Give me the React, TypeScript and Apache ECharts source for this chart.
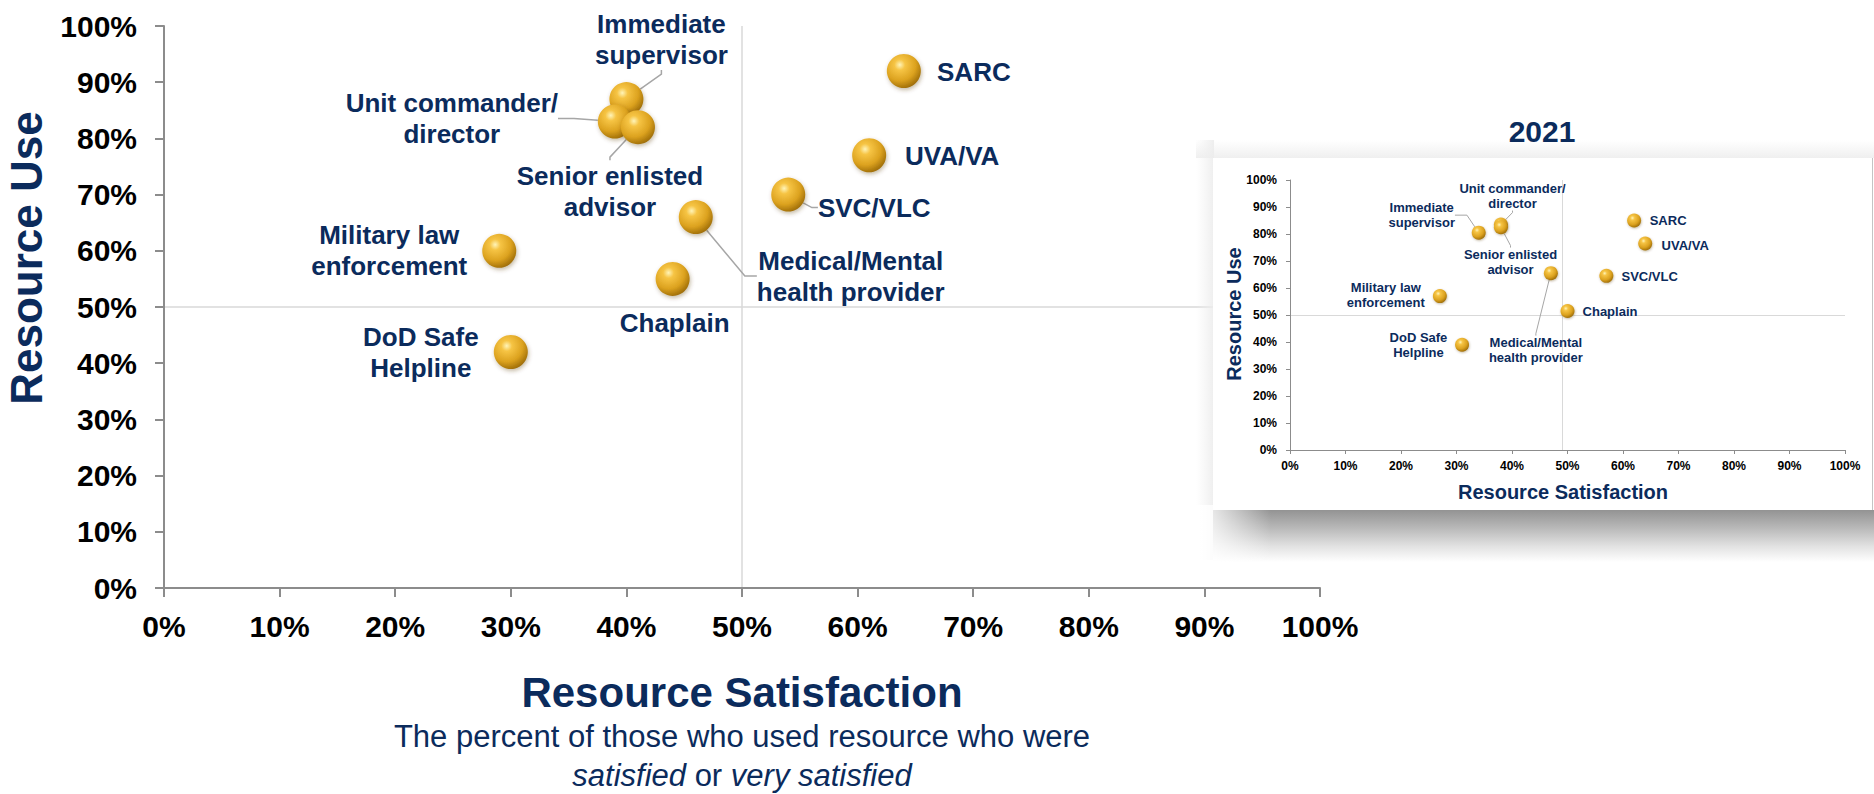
import React, { useEffect, useRef } from 'react';
import * as echarts from 'echarts';

// ---------- data ----------
const categories = [
  'Immediate supervisor',
  'Unit commander/director',
  'Senior enlisted advisor',
  'Military law enforcement',
  'DoD Safe Helpline',
  'Chaplain',
  'Medical/Mental health provider',
  'SVC/VLC',
  'UVA/VA',
  'SARC',
];
const labelTexts = [
  'Immediate\nsupervisor',
  'Unit commander/\ndirector',
  'Senior enlisted\nadvisor',
  'Military law\nenforcement',
  'DoD Safe\nHelpline',
  'Chaplain',
  'Medical/Mental\nhealth provider',
  'SVC/VLC',
  'UVA/VA',
  'SARC',
];
// current (large) chart
const satisfactionMain = [40, 39, 41, 29, 30, 44, 46, 54, 61, 64];
const useMain = [87, 83, 82, 60, 42, 55, 66, 70, 77, 92];
// 2021 inset
const satisfaction2021 = [34, 38, 38, 27, 31, 50, 47, 57, 64, 62];
const use2021 = [80.5, 83.5, 82.5, 57, 39, 51.5, 65.5, 64.5, 76.5, 85];

const axisMin = 0;
const axisMax = 100;
const axisStep = 10;
const mainRefX = 50;
const mainRefY = 50;
const insetRefX = 49;
const insetRefY = 50;
const insetTitle = '2021';

// ---------- label placement (styles, not data) ----------
const mainOffsets: number[][] = [
  [35, -60], [-163, -3], [-28, 64], [-110, 0], [-90, 1],
  [2, 44], [155, 59], [86, 13], [83, 1], [70, 1],
];
const mainLeaders: (number | null)[] = [4, 16, 3, null, null, null, 12, 6, null, null];
const insetOffsets: number[][] = [
  [-57, -17.5], [11.6, -28.5], [9.6, 34.8], [-54, -1], [-43.6, 0.3],
  [42.5, 1], [-15, 77], [43.3, 0.6], [40, 2], [34, 0],
];
const insetLeaders: (number | null)[] = [12, 2, 2, null, null, null, 2, null, null, null];

const FONT = "'Liberation Sans', Arial, sans-serif";
const NAVY = '#0b2b5c';
const AXIS_GRAY = '#8c8c8c';
const REF_GRAY = '#d9d9d9';

const sphere = {
  type: 'radial',
  x: 0.38,
  y: 0.32,
  r: 0.72,
  colorStops: [
    { offset: 0, color: '#fff4b8' },
    { offset: 0.22, color: '#f6c444' },
    { offset: 0.65, color: '#dca21f' },
    { offset: 1, color: '#9c6b06' },
  ],
};

function axisPair(gridIndex: number, big: boolean, isX: boolean) {
  return {
    gridIndex,
    type: 'value',
    min: axisMin,
    max: axisMax,
    interval: axisStep,
    z: big ? 2 : 12,
    axisLine: { show: true, lineStyle: { color: AXIS_GRAY, width: big ? 2 : 1 } },
    axisTick: { show: true, length: big ? 9 : 4, lineStyle: { color: AXIS_GRAY, width: big ? 2 : 1 } },
    splitLine: { show: false },
    axisLabel: {
      formatter: '{value}%',
      color: '#000',
      fontFamily: FONT,
      fontWeight: 'bold',
      fontSize: big ? 30 : 12,
      margin: big ? (isX ? 23 : 27) : (isX ? 10 : 13),
    },
  };
}

function makeSeries(
  xs: number[], ys: number[], offsets: number[][], leaders: (number | null)[],
  big: boolean, refX: number, refY: number, idx: number,
) {
  return {
    type: 'scatter',
    xAxisIndex: idx,
    yAxisIndex: idx,
    z: big ? 2 : 12,
    silent: true,
    symbol: 'circle',
    symbolSize: big ? 34 : 14,
    data: categories.map((c, i) => ({
      name: c,
      value: [xs[i], ys[i]],
      labelLine: { show: leaders[i] != null, length2: leaders[i] ?? 0 },
    })),
    itemStyle: {
      color: sphere,
      opacity: 1,
      shadowBlur: big ? 4 : 2,
      shadowColor: 'rgba(90,60,0,0.35)',
      shadowOffsetX: big ? 1 : 0.5,
      shadowOffsetY: big ? 2 : 1,
    },
    label: {
      show: true,
      position: 'inside',
      formatter: (p: any) => labelTexts[p.dataIndex],
      color: NAVY,
      fontFamily: FONT,
      fontWeight: 'bold',
      fontSize: big ? 26 : 13,
      lineHeight: big ? 31 : 14.5,
      align: 'center',
      verticalAlign: 'middle',
    },
    labelLine: {
      show: false,
      lineStyle: { color: '#a6a6a6', width: big ? 1.5 : 1 },
    },
    labelLayout: (p: any) => ({ dx: offsets[p.dataIndex][0], dy: offsets[p.dataIndex][1] }),
    markLine: {
      silent: true,
      symbol: 'none',
      z: big ? 1 : 11,
      label: { show: false },
      lineStyle: { color: REF_GRAY, width: big ? 1.5 : 1, type: 'solid' },
      data: [{ xAxis: refX }, { yAxis: refY }],
    },
  };
}

export default function App() {
  const ref = useRef<HTMLDivElement>(null);
  useEffect(() => {
    if (!ref.current) return;
    const chart = echarts.init(ref.current, undefined, { renderer: 'svg' });
    const option: any = {
      animation: false,
      backgroundColor: '#ffffff',
      grid: [
        { left: 164, top: 26, width: 1156, height: 562 },
        { left: 1290, top: 180, width: 555, height: 270 },
      ],
      xAxis: [axisPair(0, true, true), axisPair(1, false, true)],
      yAxis: [axisPair(0, true, false), axisPair(1, false, false)],
      series: [
        makeSeries(satisfactionMain, useMain, mainOffsets, mainLeaders, true, mainRefX, mainRefY, 0),
        makeSeries(satisfaction2021, use2021, insetOffsets, insetLeaders, false, insetRefX, insetRefY, 1),
      ],
      graphic: [
        // inset frame
        {
          type: 'rect', z: 8, silent: true,
          shape: { x: 1196, y: 140, width: 678, height: 18 },
          style: { fill: { type: 'linear', x: 0, y: 0, x2: 0, y2: 1, colorStops: [{ offset: 0, color: 'rgba(240,240,240,0)' }, { offset: 1, color: '#efefef' }] } },
        },
        {
          type: 'rect', z: 8, silent: true,
          shape: { x: 1196, y: 140, width: 18, height: 420 },
          style: { fill: { type: 'linear', x: 0, y: 0, x2: 1, y2: 0, colorStops: [{ offset: 0, color: 'rgba(240,240,240,0)' }, { offset: 1, color: 'rgba(236,236,236,0.9)' }] } },
        },
        {
          type: 'rect', z: 8, silent: true,
          shape: { x: 1213, y: 510, width: 661, height: 52 },
          style: { fill: { type: 'linear', x: 0, y: 0, x2: 0, y2: 1, colorStops: [{ offset: 0, color: '#939393' }, { offset: 0.35, color: '#b9b9b9' }, { offset: 0.7, color: '#e2e2e2' }, { offset: 1, color: '#ffffff' }] } },
        },
        {
          type: 'rect', z: 8, silent: true,
          shape: { x: 1196, y: 505, width: 75, height: 60 },
          style: { fill: { type: 'linear', x: 0, y: 0, x2: 1, y2: 0, colorStops: [{ offset: 0, color: 'rgba(255,255,255,1)' }, { offset: 1, color: 'rgba(255,255,255,0)' }] } },
        },
        {
          type: 'rect', z: 9, silent: true,
          shape: { x: 1213, y: 158, width: 661, height: 352 },
          style: { fill: '#ffffff' },
        },
        {
          type: 'line', z: 9, silent: true,
          shape: { x1: 1872.5, y1: 158, x2: 1872.5, y2: 510 },
          style: { stroke: '#c4c4c4', lineWidth: 1 },
        },
        // main titles
        {
          type: 'text', x: 26, y: 258, rotation: Math.PI / 2, silent: true,
          style: { text: 'Resource Use', fontFamily: FONT, fontWeight: 'bold', fontSize: 44, fill: NAVY, align: 'center', verticalAlign: 'middle' },
        },
        {
          type: 'text', x: 742, y: 692, silent: true,
          style: { text: 'Resource Satisfaction', fontFamily: FONT, fontWeight: 'bold', fontSize: 42, fill: NAVY, align: 'center', verticalAlign: 'middle' },
        },
        {
          type: 'text', x: 742, y: 736, silent: true,
          style: { text: 'The percent of those who used resource who were', fontFamily: FONT, fontSize: 31, fill: NAVY, align: 'center', verticalAlign: 'middle' },
        },
        {
          type: 'text', x: 742, y: 775, silent: true,
          style: {
            text: '{i|satisfied} or {i|very satisfied}',
            fontFamily: FONT, fontSize: 31, fill: NAVY, align: 'center', verticalAlign: 'middle',
            rich: { i: { fontStyle: 'italic', fontFamily: FONT, fontSize: 31, fill: NAVY } },
          },
        },
        // inset titles
        {
          type: 'text', x: 1542, y: 131, z: 12, silent: true,
          style: { text: insetTitle, fontFamily: FONT, fontWeight: 'bold', fontSize: 30, fill: NAVY, align: 'center', verticalAlign: 'middle' },
        },
        {
          type: 'text', x: 1234, y: 314, z: 12, rotation: Math.PI / 2, silent: true,
          style: { text: 'Resource Use', fontFamily: FONT, fontWeight: 'bold', fontSize: 20, fill: NAVY, align: 'center', verticalAlign: 'middle' },
        },
        {
          type: 'text', x: 1563, y: 492, z: 12, silent: true,
          style: { text: 'Resource Satisfaction', fontFamily: FONT, fontWeight: 'bold', fontSize: 20, fill: NAVY, align: 'center', verticalAlign: 'middle' },
        },
      ],
    };
    chart.setOption(option);
    return () => chart.dispose();
  }, []);
  return (
    <div
      ref={ref}
      style={{ position: 'absolute', left: 0, top: 0, width: 1874, height: 794, background: '#fff' }}
    />
  );
}
